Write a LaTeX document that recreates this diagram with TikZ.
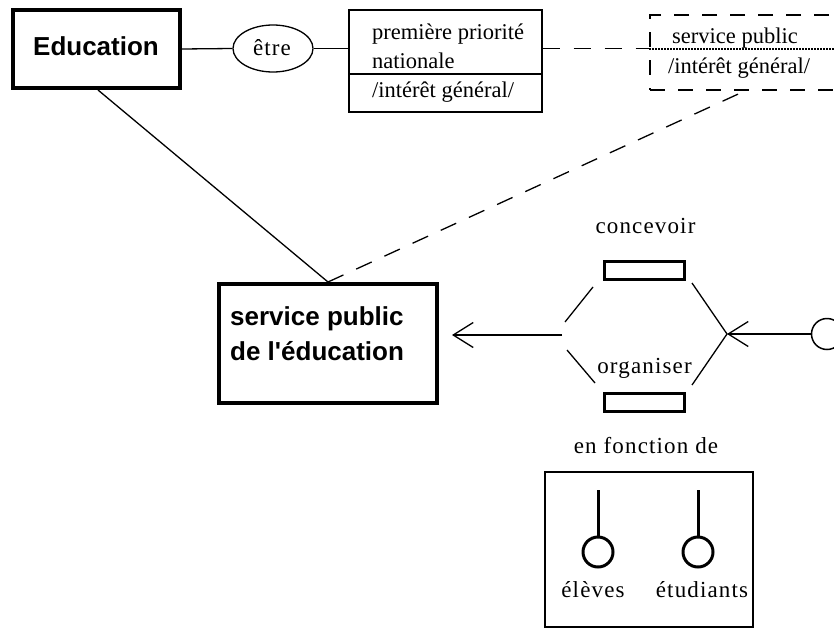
\documentclass[tikz,border=0pt]{standalone}
\usepackage{fontspec}
\setmainfont{Liberation Serif}
\newfontfamily\sansb{Liberation Sans}
\newfontfamily\spc[LetterSpace=5]{Liberation Serif}
\usetikzlibrary{arrows.meta,shapes.geometric}
\tikzset{
  thickbox/.style={draw, line width=4pt, inner sep=0pt},
  thinbox/.style={draw, line width=1.3pt, inner sep=0pt},
  opbox/.style={draw, line width=3pt, inner sep=0pt, minimum width=80pt, minimum height=18pt},
  lbl/.style={inner sep=0pt, font=\fontsize{23}{27}\selectfont\spc},
  boxtxt/.style={inner sep=0pt, anchor=base west, font=\fontsize{22.5}{26}\selectfont},
  bold/.style={inner sep=0pt, font=\fontsize{26}{30}\selectfont\sansb\bfseries},
  conn/.style={line width=1.3pt},
  dash1/.style={line width=1.3pt, dash pattern=on 17pt off 14pt},
  arr/.style={line width=1.3pt, -{Straight Barb[length=20pt,width=25pt,line width=1.3pt]}},
  pinline/.style={line width=3pt},
}
\begin{document}
\begin{tikzpicture}[x=1pt,y=-1pt]
\useasboundingbox (0,0) rectangle (834,637);
\fill[white] (0,0) rectangle (834,637);

% Education
\node[thickbox, minimum width=167pt, minimum height=78pt] (edu) at (96.5,49) {};
\node[bold, anchor=base] (edutxt) at (96,55) {Education};

% etre
\node[ellipse, draw, line width=1.3pt, minimum width=80pt, minimum height=47pt, inner sep=0pt] (etre) at (273,48.5) {};
\node[lbl, anchor=base] (etretxt) at (272,55) {être};

% premiere priorite box
\node[thinbox, minimum width=193pt, minimum height=102pt] (prio) at (445.5,61) {};
\draw[conn] (prio.west |- 0,74) -- (prio.east |- 0,74);
\node[boxtxt] (p1) at (372,39) {première priorité};
\node[boxtxt] (p2) at (372,68) {nationale};
\node[boxtxt] (p3) at (372,97) {/intérêt général/};

% dashed service public box
\node[draw, line width=1.3pt, dash pattern=on 15pt off 13pt, minimum width=220pt, minimum height=75pt, inner sep=0pt] (sp2) at (760,52.5) {};
\draw[line width=1.2pt, dash pattern=on 1.5pt off 1.5pt] (sp2.west |- 0,49) -- (sp2.east |- 0,49);
\node[boxtxt] (s1) at (672,43) {service public};
\node[boxtxt] (s2) at (668,73) {/intérêt général/};

% service public de l'education
\node[thickbox, minimum width=218pt, minimum height=119pt] (spe) at (328,343.5) {};
\node[bold, anchor=base west] (e1) at (230,325) {service public};
\node[bold, anchor=base west] (e2) at (230,360) {de l'éducation};

% top connectors
\draw[conn] (edu.east) -- (etre.west);
\draw[conn] (etre.east) -- (prio.west |- etre.east);
\draw[dash1] (prio.east |- etre.east) -- (sp2.west |- etre.east);
\draw[conn] (98,90) -- (spe.north);
\coordinate (dtip) at (747,90);
\draw[dash1] (spe.north) -- (dtip);

% concevoir / organiser
\node[opbox] (conc) at (644.5,270) {};
\node[opbox] (orga) at (644.5,402.5) {};
\node[lbl, anchor=base] (conctxt) at (645.5,233) {concevoir};
\node[lbl, anchor=base] (orgatxt) at (644.5,373) {organiser};

\coordinate (jl) at (562,335);
\coordinate (altip) at (452,335);
\draw[arr] (jl) -- (altip);
\coordinate (ul1) at (565,322);
\coordinate (ul2) at (593,287);
\coordinate (ll1) at (567,350);
\coordinate (ll2) at (595,383);
\draw[conn] (ul1) -- (ul2);
\draw[conn] (ll1) -- (ll2);
\coordinate (jr) at (727,334);
\coordinate (ur) at (692,283);
\coordinate (lr) at (692,385);
\draw[conn] (ur) -- (jr) -- (lr);
\node[circle, draw, line width=1.5pt, minimum size=31pt, inner sep=0pt] (actor) at (827,334) {};
\draw[arr] (actor.west) -- (jr);

% en fonction de
\node[lbl, anchor=base] (enf) at (646,453) {en fonction de};
\node[thinbox, minimum width=208pt, minimum height=155pt] (frame) at (649,549.5) {};
\node[circle, draw, line width=3pt, minimum size=30pt, inner sep=0pt] (c1) at (598,552) {};
\node[circle, draw, line width=3pt, minimum size=30pt, inner sep=0pt] (c2) at (698,552) {};
\coordinate (t1) at (598,490);
\coordinate (t2) at (698,490);
\draw[pinline] (t1) -- (c1.north);
\draw[pinline] (t2) -- (c2.north);
\node[lbl, anchor=base] (el) at (593,597) {élèves};
\node[lbl, anchor=base] (et) at (702,597) {étudiants};
\end{tikzpicture}
\end{document}
